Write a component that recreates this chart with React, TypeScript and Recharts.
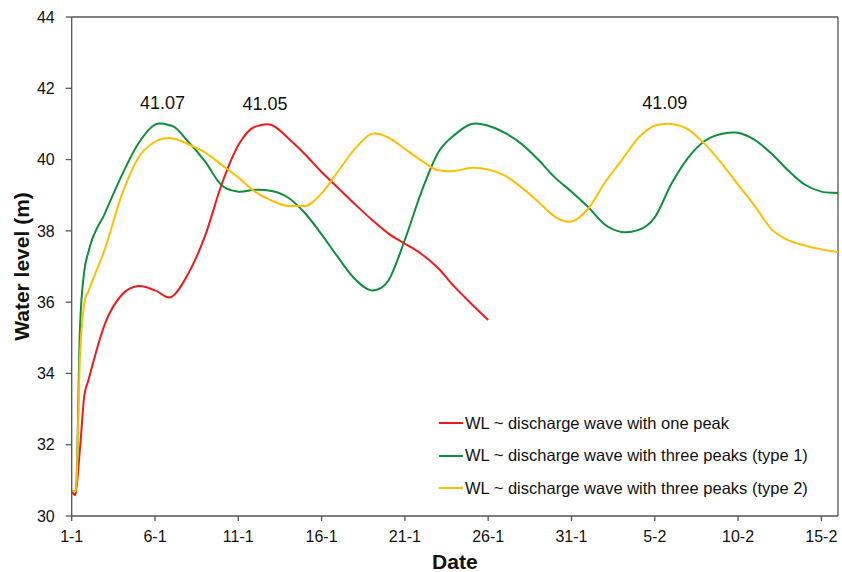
import {
  Legend,
  Line,
  LineChart,
  ReferenceDot,
  ReferenceLine,
  XAxis,
  YAxis,
} from "recharts";

// day offsets from 1 January; a few quarter-day points at the start for the steep rise
const days = [
  0, 0.25, 0.5, 0.75, 1, 2, 3, 4, 5, 6, 7, 8, 9, 10, 11, 12, 13, 14, 15, 16, 17,
  18, 19, 20, 21, 22, 23, 24, 25, 26, 27, 28, 29, 30, 31, 32, 33, 34, 35, 36,
  37, 38, 39, 40, 41, 42, 43, 44, 45, 46,
];

// WL ~ discharge wave with one peak (ends on 26-1)
const onePeak = [
  30.7, 30.67, 31.9, 33.35, 33.8, 35.4, 36.2, 36.45, 36.33, 36.15, 36.8, 37.85,
  39.3, 40.4, 40.92, 40.97, 40.6, 40.15, 39.65, 39.2, 38.75, 38.32, 37.93,
  37.64, 37.35, 36.95, 36.42, 35.95, 35.5,
];

// WL ~ discharge wave with three peaks (type 1)
const threePeaks1 = [
  30.7, 30.7, 35.3, 36.85, 37.4, 38.5, 39.55, 40.45, 40.98, 40.95, 40.5, 39.95,
  39.28, 39.1, 39.15, 39.12, 38.93, 38.5, 37.9, 37.25, 36.65, 36.33, 36.6,
  37.75, 39.1, 40.2, 40.7, 41.0, 40.95, 40.75, 40.44, 40.0, 39.5, 39.1, 38.67,
  38.18, 37.97, 38.02, 38.38, 39.32, 40.05, 40.52, 40.72, 40.75, 40.55, 40.17,
  39.7, 39.3, 39.1, 39.06,
];

// WL ~ discharge wave with three peaks (type 2)
const threePeaks2 = [
  30.7, 30.7, 34.5, 35.95, 36.3, 37.5, 39.0, 40.05, 40.5, 40.6, 40.43, 40.2,
  39.85, 39.5, 39.1, 38.85, 38.7, 38.7, 39.05, 39.68, 40.3, 40.72, 40.62, 40.3,
  39.97, 39.7, 39.68, 39.77, 39.72, 39.55, 39.22, 38.82, 38.4, 38.26, 38.62,
  39.35, 39.97, 40.6, 40.95, 41.0, 40.85, 40.44, 39.9, 39.3, 38.7, 38.05,
  37.74, 37.59, 37.48, 37.4,
];

const xTickValues = [0, 5, 10, 15, 20, 25, 30, 35, 40, 45];
const xTickLabels = ["1-1", "6-1", "11-1", "16-1", "21-1", "26-1", "31-1", "5-2", "10-2", "15-2"];
const yTicks = [30, 32, 34, 36, 38, 40, 42, 44];

// peak annotations
const peakDays = [5.45, 11.6, 35.6];
const peakValues = [41.07, 41.05, 41.09];

const series = [
  { key: "onePeak", name: "WL ~ discharge wave with one peak", color: "#ee1b1b", values: onePeak },
  { key: "three1", name: "WL ~ discharge wave with three peaks (type 1)", color: "#0f8f3c", values: threePeaks1 },
  { key: "three2", name: "WL ~ discharge wave with three peaks (type 2)", color: "#ffbf00", values: threePeaks2 },
];

const data = days.map((day, i) => {
  const row: Record<string, number | undefined> = { day };
  series.forEach((s) => {
    row[s.key] = s.values[i];
  });
  return row;
});

const FONT = "'Liberation Sans', Arial, sans-serif";
const AXIS = "#555";

// Hermite smoothing: monotone-limited where the curve keeps going one way,
// but no forced zero slope at peaks/troughs (monotone flattens those),
// and zero slope next to flat runs so the start does not dip.
function smoothCurve(context: any) {
  let pts: number[][] = [];
  return {
    areaStart() {},
    areaEnd() {},
    lineStart() {
      pts = [];
    },
    point(x: number, y: number) {
      pts.push([+x, +y]);
    },
    lineEnd() {
      const n = pts.length;
      if (!n) return;
      context.moveTo(pts[0][0], pts[0][1]);
      if (n === 1) return;
      const h: number[] = [];
      const d: number[] = [];
      for (let i = 0; i < n - 1; i++) {
        h.push(pts[i + 1][0] - pts[i][0]);
        d.push((pts[i + 1][1] - pts[i][1]) / h[i]);
      }
      const m: number[] = [];
      for (let i = 0; i < n; i++) {
        if (i === 0) m.push(d[0]);
        else if (i === n - 1) m.push(d[n - 2]);
        else {
          const a = d[i - 1];
          const b = d[i];
          let t = (a * h[i] + b * h[i - 1]) / (h[i - 1] + h[i]);
          if (Math.abs(a) < 1e-9 || Math.abs(b) < 1e-9) t = 0;
          else if (a * b > 0) {
            const lim = 3 * Math.min(Math.abs(a), Math.abs(b));
            if (Math.abs(t) > lim) t = Math.sign(t) * lim;
          }
          m.push(t);
        }
      }
      for (let i = 0; i < n - 1; i++) {
        const s = h[i] / 3;
        context.bezierCurveTo(
          pts[i][0] + s,
          pts[i][1] + m[i] * s,
          pts[i + 1][0] - s,
          pts[i + 1][1] - m[i + 1] * s,
          pts[i + 1][0],
          pts[i + 1][1],
        );
      }
    },
  };
}

function ChartLegend() {
  return (
    <div style={{ fontFamily: FONT, fontSize: 16.5, color: "#111" }}>
      {series.map((s) => (
        <div key={s.key} style={{ display: "flex", alignItems: "center", height: 32.5 }}>
          <span style={{ display: "inline-block", width: 24, height: 2, background: s.color, marginRight: 2 }} />
          <span>{s.name}</span>
        </div>
      ))}
    </div>
  );
}

export default function App() {
  return (
    <div style={{ position: "absolute", left: 0, top: 0, background: "#fff" }}>
      <LineChart
        width={842}
        height={572}
        data={data}
        margin={{ top: 17, right: 4, left: 0, bottom: 0 }}
      >
        <XAxis
          dataKey="day"
          type="number"
          domain={[0, 46]}
          ticks={xTickValues}
          tickFormatter={(v: number) => xTickLabels[xTickValues.indexOf(v)]}
          height={56}
          tickSize={5}
          tickMargin={10}
          stroke={AXIS}
          strokeWidth={1.3}
          tick={{ fill: "#111", fontSize: 16, fontFamily: FONT }}
          label={{
            value: "Date",
            position: "insideBottom",
            offset: 3,
            style: { fill: "#111", fontSize: 21, fontWeight: 700, fontFamily: FONT },
          }}
        />
        <YAxis
          type="number"
          domain={[30, 44]}
          ticks={yTicks}
          width={71.7}
          tickSize={6}
          tickMargin={11}
          stroke={AXIS}
          strokeWidth={1.3}
          tick={{ fill: "#111", fontSize: 16, fontFamily: FONT }}
          label={{
            value: "Water level (m)",
            angle: -90,
            position: "insideLeft",
            offset: 22,
            style: { textAnchor: "middle", fill: "#111", fontSize: 21, fontWeight: 700, fontFamily: FONT },
          }}
        />
        <ReferenceLine y={44} stroke={AXIS} strokeWidth={1.3} />
        <ReferenceLine x={46} stroke={AXIS} strokeWidth={1.3} />

        {series.map((s) => (
          <Line
            key={s.key}
            type={smoothCurve as any}
            dataKey={s.key}
            name={s.name}
            stroke={s.color}
            strokeWidth={2}
            dot={false}
            activeDot={false}
            isAnimationActive={false}
          />
        ))}

        {peakDays.map((d, i) => (
          <ReferenceDot
            key={d}
            x={d}
            y={peakValues[i]}
            r={0}
            stroke="none"
            fill="none"
            label={{
              value: peakValues[i].toFixed(2),
              position: "top",
              offset: 12,
              style: { fill: "#111", fontSize: 18, fontFamily: FONT },
            }}
          />
        ))}

        <Legend
          layout="horizontal"
          verticalAlign="middle"
          align="center"
          wrapperStyle={{ left: 439, top: 407, width: 400 }}
          content={() => <ChartLegend />}
        />
      </LineChart>
    </div>
  );
}
